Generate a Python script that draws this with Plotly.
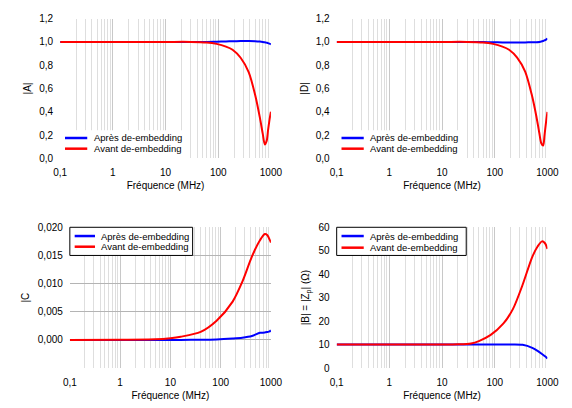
import plotly.graph_objects as go

W, H = 572, 408

# ---- data ----
freq_A = [0.1, 1, 10, 30, 60, 93, 140, 187, 266, 378, 502, 617, 700, 765, 830, 881, 940, 1000]
A_apres = [1.0, 1.0, 1.0, 1.0, 1.0, 1.002, 1.004, 1.006, 1.007, 1.007, 1.006, 1.003, 1.0, 0.997, 0.993, 0.99, 0.985, 0.98]
A_avant = [1.0, 1.0, 1.0, 1.0, 0.995, 0.983, 0.96, 0.933, 0.864, 0.74, 0.544, 0.35, 0.21, 0.12, 0.15, 0.24, 0.33, 0.40]

freq_D = [0.1, 1, 10, 30, 60, 93, 140, 187, 266, 378, 502, 617, 700, 765, 830, 881, 940, 1000]
D_apres = [1.0, 1.0, 1.0, 1.0, 0.999, 0.997, 0.996, 0.996, 0.996, 0.996, 0.997, 0.998, 1.0, 1.003, 1.008, 1.013, 1.02, 1.03]
D_avant = [1.0, 1.0, 1.0, 1.0, 0.995, 0.983, 0.96, 0.933, 0.866, 0.745, 0.55, 0.36, 0.22, 0.13, 0.11, 0.20, 0.31, 0.40]

freq_C = [0.1, 1, 5, 10, 16, 40, 83, 173, 269, 418, 605, 755, 850, 943, 1000]
C_apres = [0.0, 0.0, 0.0, 0.0, 0.0, 0.00002, 0.00008, 0.00025, 0.0004, 0.0007, 0.00125, 0.0013, 0.0014, 0.0015, 0.0017]
C_avant = [0.0, 0.00003, 0.0001, 0.0003, 0.00056, 0.00142, 0.0034, 0.0068, 0.0103, 0.0148, 0.0177, 0.0188, 0.0186, 0.0178, 0.0173]

freq_B = [0.1, 1, 10, 20, 35.5, 50, 82.6, 145, 221, 338, 516, 650, 787, 900, 1000]
B_apres = [10.0, 10.0, 10.0, 10.0, 10.0, 10.0, 10.0, 10.0, 10.05, 9.9, 8.6, 7.3, 6.0, 5.0, 4.0]
B_avant = [10.0, 10.0, 10.0, 10.1, 10.5, 11.5, 14.0, 18.9, 25.1, 35.5, 47.4, 51.8, 54.0, 53.2, 50.8]

x_tickvals = [0.1, 1, 10, 100, 1000]
x_ticktext = ["0,1", "1", "10", "100", "1000"]
minor_vals = [m * d for d in [0.1, 1, 10, 100] for m in range(2, 10)]

names = ["Après de-embedding", "Avant de-embedding"]
colors = ["#0000ff", "#ff0000"]

FONT = "Liberation Sans, Arial, sans-serif"

fig = go.Figure()

panels = [
    ("x", "y", freq_A, A_apres, A_avant),
    ("x2", "y2", freq_D, D_apres, D_avant),
    ("x3", "y3", freq_C, C_apres, C_avant),
    ("x4", "y4", freq_B, B_apres, B_avant),
]

for xa, ya, fq, ap, av in panels:
    for name, col, vals in zip(names, colors, [ap, av]):
        fig.add_trace(go.Scatter(
            x=fq, y=vals, mode="lines", name=name, showlegend=False,
            line=dict(color=col, width=2, shape="spline", smoothing=0.8),
            xaxis=xa, yaxis=ya,
        ))

def px_x(p):
    return p / W

def px_y(p):
    return 1 - p / H

xdom_l = [px_x(55), px_x(273)]
xdom_r = [px_x(341), px_x(559)]
xdom_bl = [px_x(65), px_x(273)]
ydom_t = [px_y(157), px_y(13)]
ydom_b = [px_y(373), px_y(228)]

tickfont = dict(family=FONT, size=10, color="#000000")
titlefont = dict(family=FONT, size=10, color="#000000")

def xaxis(dom, anchor):
    return dict(
        domain=dom, anchor=anchor, type="log", range=[-1, 3],
        tickvals=x_tickvals, ticktext=x_ticktext, tickfont=tickfont,
        title=dict(text="Fréquence (MHz)", font=titlefont, standoff=4),
        showgrid=True, gridcolor="#c8c8c8", gridwidth=1,
        minor=dict(tickvals=minor_vals, showgrid=True, gridcolor="#dedede", gridwidth=1, ticks=""),
        showline=False, zeroline=False,
        ticks="outside", ticklen=5, tickcolor="rgba(0,0,0,0)",
    )

def yaxis(dom, anchor, rng, tv, fmt, title, standoff, grid=False):
    return dict(
        domain=dom, anchor=anchor, range=rng, tickvals=tv, tickformat=fmt,
        tickfont=tickfont, title=dict(text=title, font=titlefont, standoff=standoff),
        showgrid=grid, gridcolor="#b4b4b4", gridwidth=1,
        showline=False, zeroline=False,
        ticks="outside", ticklen=4, tickcolor="rgba(0,0,0,0)",
    )

fig.update_layout(
    width=W, height=H, margin=dict(l=0, r=0, t=0, b=0),
    paper_bgcolor="#ffffff", plot_bgcolor="#ffffff",
    separators=", ", showlegend=False,
    xaxis=xaxis(xdom_l, "y"),
    xaxis2=xaxis(xdom_r, "y2"),
    xaxis3=xaxis(xdom_bl, "y3"),
    xaxis4=xaxis(xdom_r, "y4"),
    yaxis=yaxis(ydom_t, "x", [0, 1.2], [0, 0.2, 0.4, 0.6, 0.8, 1.0, 1.2], ".1f", "|A|", 5),
    yaxis2=yaxis(ydom_t, "x2", [0, 1.2], [0, 0.2, 0.4, 0.6, 0.8, 1.0, 1.2], ".1f", "|D|", 5),
    yaxis3=yaxis(ydom_b, "x3", [-0.005, 0.020], [0, 0.005, 0.010, 0.015, 0.020], ".3f", "|C", 6, grid=True),
    yaxis4=yaxis(ydom_b, "x4", [0, 60], [0, 10, 20, 30, 40, 50, 60], ".0f", "|B| = |Z<sub>p</sub>| (Ω)", 7),
)

# ---- legends (drawn as boxes, sample lines and texts) ----
legend_specs = [
    # box (x0, y0, x1, y1), border, line x0, line x1, text x, rows y
    ((55, 128, 184, 157), False, 60, 83, 88, (136, 147)),
    ((341, 128, 470, 157), False, 346, 369, 373, (136, 147)),
    ((65, 228, 192, 257), True, 70, 91, 95, (237, 248)),
    ((341, 228, 475, 257), True, 346, 369, 373, (237, 249)),
]

shapes = []
annotations = list(fig.layout.annotations)
for (bx0, by0, bx1, by1), border, lx0, lx1, tx, rows in legend_specs:
    shapes.append(dict(
        type="rect", xref="paper", yref="paper",
        x0=px_x(bx0), x1=px_x(bx1), y0=px_y(by1), y1=px_y(by0),
        fillcolor="#ffffff",
        line=dict(color="#000000" if border else "rgba(0,0,0,0)", width=1),
        layer="above",
    ))
    for name, col, ry in zip(names, colors, rows):
        shapes.append(dict(
            type="line", xref="paper", yref="paper",
            x0=px_x(lx0), x1=px_x(lx1), y0=px_y(ry), y1=px_y(ry),
            line=dict(color=col, width=2.5), layer="above",
        ))
        annotations.append(dict(
            xref="paper", yref="paper", x=px_x(tx), y=px_y(ry),
            xanchor="left", yanchor="middle", showarrow=False,
            text=name, font=dict(family=FONT, size=9.5, color="#000000"),
        ))

fig.update_layout(shapes=shapes, annotations=annotations)

fig.write_html("out.html")
